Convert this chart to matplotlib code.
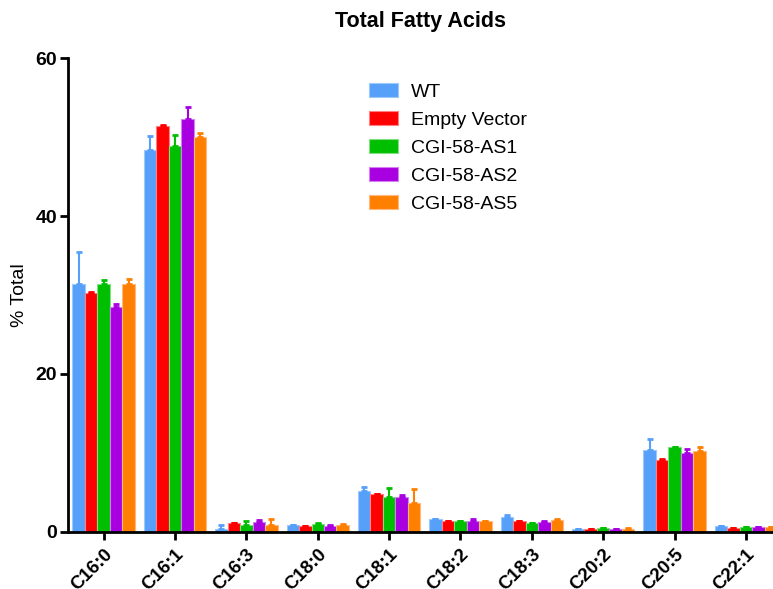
import numpy as np
import matplotlib
matplotlib.use("Agg")
import matplotlib.pyplot as plt

plt.rcParams['font.family'] = ['Liberation Sans', 'DejaVu Sans']

categories = ["C16:0", "C16:1", "C16:3", "C18:0", "C18:1", "C18:2", "C18:3", "C20:2", "C20:5", "C22:1"]
series_names = ["WT", "Empty Vector", "CGI-58-AS1", "CGI-58-AS2", "CGI-58-AS5"]

wt   = [31.4, 48.4, 0.42, 0.85, 5.19, 1.60, 1.86, 0.33, 10.33, 0.72]
ev   = [30.2, 51.35, 1.15, 0.76, 4.77, 1.39, 1.35, 0.38, 9.16, 0.50]
as1  = [31.4, 48.9, 0.85, 1.00, 4.39, 1.43, 1.10, 0.50, 10.76, 0.59]
as2  = [28.5, 52.3, 1.27, 0.80, 4.43, 1.43, 1.22, 0.38, 10.04, 0.63]
as5  = [31.4, 50.0, 0.89, 0.89, 3.71, 1.35, 1.56, 0.42, 10.25, 0.63]

wt_err  = [4.0, 1.7, 0.48, 0.05, 0.46, 0.05, 0.34, 0.02, 1.47, 0.08]
ev_err  = [0.15, 0.15, 0.0, 0.0, 0.03, 0.0, 0.04, 0.0, 0.04, 0.0]
as1_err = [0.5, 1.4, 0.55, 0.14, 1.21, 0.0, 0.0, 0.0, 0.0, 0.0]
as2_err = [0.4, 1.5, 0.29, 0.08, 0.21, 0.22, 0.17, 0.0, 0.42, 0.04]
as5_err = [0.6, 0.5, 0.71, 0.08, 1.73, 0.04, 0.09, 0.08, 0.47, 0.0]

values = [wt, ev, as1, as2, as5]
errors = [wt_err, ev_err, as1_err, as2_err, as5_err]
colors = ["#56A0FA", "#FF0000", "#00BF00", "#A800E0", "#FF8000"]
edge_colors = ["#9CC8FC", "#FF8080", "#80DF80", "#D480F0", "#FFB880"]

fig = plt.figure(figsize=(7.73, 5.89), dpi=100)
ax = fig.add_axes([0.088, 0.0968, 0.912, 0.8047])

x = np.arange(len(categories))
w = 0.175
for i, (vals, errs, c, ec, name) in enumerate(zip(values, errors, colors, edge_colors, series_names)):
    pos = x + (i - 2) * w
    ax.bar(pos, vals, width=w, color=c, edgecolor=ec, linewidth=0.8, label=name, zorder=2)
    ax.errorbar(pos, vals, yerr=[np.zeros(len(vals)), errs], fmt='none', ecolor=c,
                elinewidth=1.5, capsize=2.2, capthick=2.0, zorder=3)

ax.set_xlim(-0.5, 9.38)
ax.set_ylim(0, 60)
ax.set_yticks([0, 20, 40, 60])
ax.set_xticks(x)
ax.set_xticklabels(categories, rotation=45, ha='right', rotation_mode='anchor',
                   fontsize=13.5, fontweight='bold')
for lab in ax.get_yticklabels():
    lab.set_fontweight('bold')
    lab.set_fontsize(14)
ax.tick_params(axis='both', direction='out', length=6, width=2, pad=2)
ax.tick_params(axis='x', pad=4)
for s in ['top', 'right']:
    ax.spines[s].set_visible(False)
for s in ['left', 'bottom']:
    ax.spines[s].set_linewidth(2)
ax.set_ylabel("% Total", fontsize=14, labelpad=5)
ax.set_title("Total Fatty Acids", fontsize=15.5, fontweight='bold', pad=22)

leg = ax.legend(loc='upper left', bbox_to_anchor=(0.402, 0.984), frameon=False,
                fontsize=14, handlelength=1.5, handleheight=0.75, handletextpad=0.65,
                labelspacing=0.52)

fig.savefig("out.png", dpi=100)
